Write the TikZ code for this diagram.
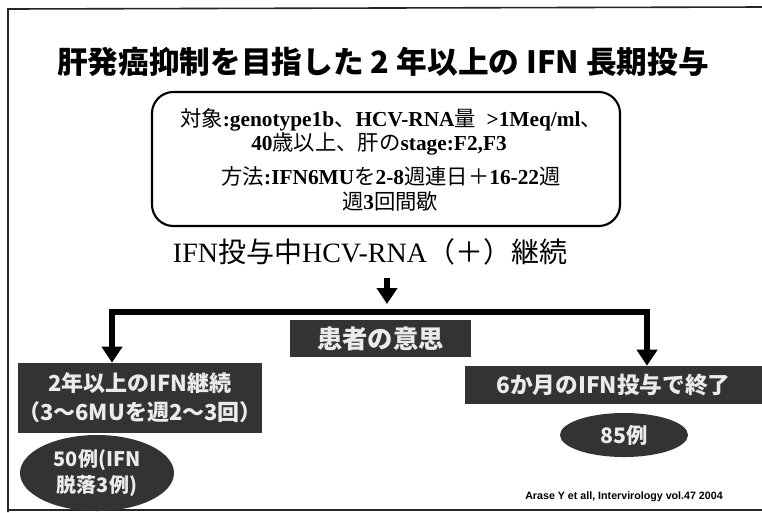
\documentclass[tikz,border=0pt]{standalone}
\usepackage{fontspec}
\setmainfont{Liberation Serif}
\newfontfamily\cjk{Noto Sans CJK JP}
\newfontfamily\citefont{Liberation Sans}
\newcommand\jtxt[1]{{\cjk\mdseries #1}}
\usetikzlibrary{arrows.meta,shapes.geometric}
\begin{document}
\begin{tikzpicture}[x=0.75pt,y=-0.75pt,
  >={Triangle[width=15pt,length=12pt]},
  frameline/.style={line width=1.2pt,black!85},
  flowline/.style={line width=5pt,line join=miter},
  condbox/.style={draw,line width=1.6pt,rounded corners=16pt,minimum width=351pt,minimum height=100.5pt},
  condtext/.style={inner sep=0pt,font=\bfseries\fontsize{16}{18}\selectfont},
  darkbox/.style={fill=black!80,text=white!92!black,inner sep=0pt,font=\cjk\bfseries,align=center},
  darkell/.style={ellipse,fill=black!80,text=white!92!black,inner sep=0pt,font=\cjk\bfseries,align=center}]
\useasboundingbox (0,0) rectangle (762,512);
\fill[white] (0,0) rectangle (762,512);
% frame
\draw[frameline] (762,7) -- (8,9) -- (8,512);
\draw[frameline] (8,510) -- (762,510);
% title
\node (title) at (383,62) {\cjk\bfseries\fontsize{23}{26}\selectfont 肝発癌抑制を目指した 2 年以上の IFN 長期投与};
% condition box
\node[condbox] (cond) at (386,159) {};
\node[condtext] (c1) at (391,120) {\jtxt{対象}:genotype1b\jtxt{、}HCV-RNA\jtxt{量}\ \ >1Meq/ml\jtxt{、}};
\node[condtext] (c2) at (379,144) {40\jtxt{歳以上、肝の}stage:F2,F3};
\node[condtext] (c3) at (391,176) {\jtxt{方法}:IFN6MU\jtxt{を}2-8\jtxt{週連日＋}16-22\jtxt{週}};
\node[condtext] (c4) at (390,201) {\jtxt{週}3\jtxt{回間歇}};
% continuing text
\node[inner sep=0pt,font=\fontsize{21}{24}\selectfont] (cont) at (370,252) {IFN\jtxt{投与中}HCV-RNA\jtxt{（＋）継続}};
% patient's will
\node[darkbox,minimum width=135.75pt,minimum height=27.75pt,font=\cjk\bfseries\fontsize{19}{22}\selectfont] (will) at (380.5,338.5) {患者の意思};
% left branch
\node[darkbox,minimum width=183pt,minimum height=52.5pt,font=\cjk\bfseries\fontsize{16.5}{22}\selectfont] (lbox) at (140,398) {2年以上のIFN継続\\（3〜6MUを週2〜3回）};
\node[darkell,minimum width=115.5pt,minimum height=57pt,font=\cjk\bfseries\fontsize{15}{19}\selectfont] (lell) at (97,473) {50例(IFN\\脱落3例)};
% right branch
\node[darkbox,minimum width=222.75pt,minimum height=28.5pt,font=\cjk\bfseries\fontsize{17}{20}\selectfont] (rbox) at (613.5,385) {6か月のIFN投与で終了};
\node[darkell,minimum width=96pt,minimum height=33pt,font=\cjk\bfseries\fontsize{16}{19}\selectfont] (rell) at (624,435) {85例};
% citation
\node[inner sep=0pt,font=\citefont\bfseries\fontsize{8}{9}\selectfont] (cite) at (624,497) {Arase Y et all, Intervirology vol.47 2004};
% connectors
\coordinate (stem) at (387,278);
\coordinate (split) at (387,304);
\coordinate (lcorner) at (112,312);
\coordinate (rcorner) at (647,312);
\draw[flowline,->] (stem) -- (split);
\draw[flowline,<->] (lcorner |- lbox.north) -- (lcorner) -- (rcorner) -- (rcorner |- rbox.north);
\end{tikzpicture}
\end{document}
